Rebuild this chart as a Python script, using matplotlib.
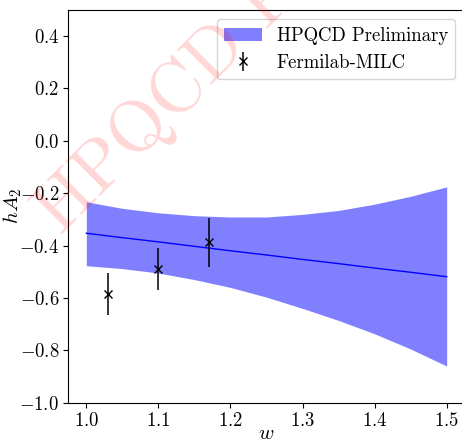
import matplotlib
matplotlib.use('Agg')
import matplotlib.pyplot as plt

plt.rcParams['font.family'] = 'serif'
plt.rcParams['font.serif'] = ['cmr10']
plt.rcParams['mathtext.fontset'] = 'cm'
plt.rcParams['axes.formatter.use_mathtext'] = True
plt.rcParams['axes.unicode_minus'] = True

# fit band
w_band = [1.0, 1.05, 1.1, 1.15, 1.2, 1.25, 1.3, 1.35, 1.4, 1.45, 1.5]
band_hi = [-0.233, -0.258, -0.275, -0.286, -0.291, -0.291, -0.281, -0.266, -0.242, -0.212, -0.176]
band_lo = [-0.477, -0.488, -0.505, -0.530, -0.560, -0.597, -0.640, -0.686, -0.737, -0.795, -0.860]
band_mid = [-0.353, -0.370, -0.386, -0.403, -0.420, -0.436, -0.453, -0.469, -0.486, -0.502, -0.519]

# Fermilab-MILC points
w_fnal = [1.03, 1.10, 1.17]
hA2_fnal = [-0.585, -0.490, -0.388]
err_fnal = [0.081, 0.080, 0.095]

fig = plt.figure(figsize=(4.62, 4.41), dpi=100)
ax = fig.add_axes([68.3 / 462, 38.3 / 441, (464.7 - 68.3) / 462, (402.7 - 9.8) / 441])

fig.text(0.132, 0.465, 'HPQCD Preliminary', fontsize=52, color='red', alpha=0.16,
         rotation=45, rotation_mode='anchor', ha='left', va='baseline', zorder=0)

ax.fill_between(w_band, band_lo, band_hi, color=(0.5, 0.5, 1.0), lw=0,
                label='HPQCD Preliminary')
ax.plot(w_band, band_mid, color='blue', lw=1.0)
ax.errorbar(w_fnal, hA2_fnal, yerr=err_fnal, fmt='x', color='black', ms=6,
            elinewidth=1.1, capsize=0, label='Fermilab-MILC')

ax.set_xlim(0.975, 1.525)
ax.set_ylim(-1.0, 0.5)
ax.set_xticks([1.0, 1.1, 1.2, 1.3, 1.4, 1.5])
ax.set_yticks([-1.0, -0.8, -0.6, -0.4, -0.2, 0.0, 0.2, 0.4])
ax.tick_params(labelsize=13.5, pad=3)
ax.set_xlabel('$w$', fontsize=15)
ax.set_ylabel('$hA_2$', fontsize=15)
ax.xaxis.set_label_coords(0.5, -0.056)
ax.yaxis.set_label_coords(-0.112, 0.5)
ax.legend(loc='upper right', fontsize=13.5)
ax.patch.set_alpha(0)

fig.savefig('out.png', dpi=100)
